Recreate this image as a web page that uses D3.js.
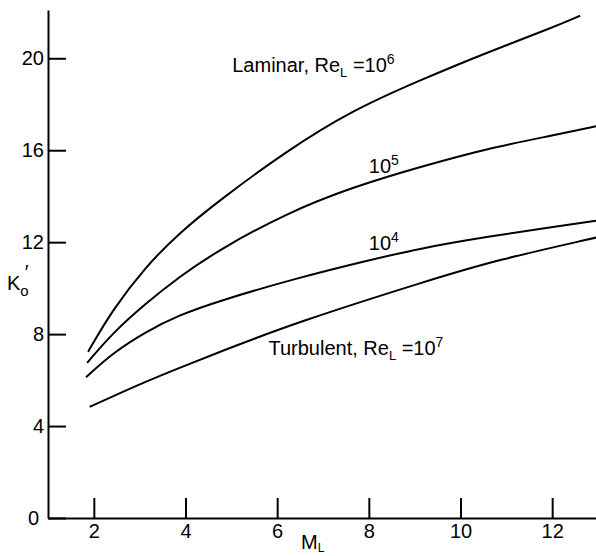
<!DOCTYPE html>
<html>
<head>
<meta charset="utf-8">
<script src="https://cdn.jsdelivr.net/npm/d3@7"></script>
<style>
  body { margin: 0; background: #fff; }
  text { font-family: "Liberation Sans", Arial, sans-serif; fill: #000; }
</style>
</head>
<body>
<div id="chart-area"></div>
<script>
// values: [M_L, K_o']
const laminar1e6 = [[1.875, 7.23], [2.40, 9.04], [3.13, 10.93], [3.86, 12.4], [4.74, 13.82],
  [6.19, 15.95], [7.65, 17.75], [9.11, 19.04], [10.57, 20.25], [12.03, 21.35], [12.61, 21.85]]
const re1e5 = [[1.855, 6.75], [2.40, 8.03], [3.13, 9.33], [3.86, 10.49], [4.74, 11.68],
  [6.19, 13.25], [7.65, 14.4], [9.11, 15.27], [10.57, 16.07], [12.03, 16.65], [12.96, 17.04]]
const re1e4 = [[1.83, 6.12], [2.40, 7.16], [3.13, 8.1], [3.86, 8.83], [4.74, 9.45],
  [6.4, 10.42], [7.87, 11.15], [9.11, 11.73], [10.57, 12.23], [12.03, 12.67], [12.96, 12.93]]
const turbulent1e7 = [[1.91, 4.84], [2.40, 5.28], [3.13, 5.93], [3.86, 6.53], [4.74, 7.22],
  [6.4, 8.5], [9.37, 10.38], [10.79, 11.22], [12.96, 12.2]]

const xTicks = [2, 4, 6, 8, 10, 12]
const yTicks = [0, 4, 8, 12, 16, 20]

const MARGIN = { LEFT: 48, RIGHT: 0, TOP: 10, BOTTOM: 38 }
const WIDTH = 596 - MARGIN.LEFT - MARGIN.RIGHT
const HEIGHT = 556 - MARGIN.TOP - MARGIN.BOTTOM

const svg = d3.select("#chart-area").append("svg")
  .attr("width", 596)
  .attr("height", 556)

const g = svg.append("g")
  .attr("transform", `translate(${MARGIN.LEFT}, ${MARGIN.TOP})`)

// Scales
const x = d3.scaleLinear()
  .domain([1, 13])
  .range([0, 550])
const y = d3.scaleLinear()
  .domain([0, 22.1])
  .range([HEIGHT, 0])

// Axes, ticks point inward
const xAxisCall = d3.axisBottom(x)
  .tickValues(xTicks)
  .tickSizeInner(-20)
  .tickSizeOuter(0)
  .tickPadding(6)
const yAxisCall = d3.axisLeft(y)
  .tickValues(yTicks)
  .tickSizeInner(-18)
  .tickSizeOuter(0)
  .tickPadding(4)

const xAxis = g.append("g")
  .attr("class", "x axis")
  .attr("transform", `translate(0,${HEIGHT})`)
  .call(xAxisCall)
const yAxis = g.append("g")
  .attr("class", "y axis")
  .call(yAxisCall)

g.selectAll(".axis path, .axis line")
  .attr("stroke", "#000")
  .attr("stroke-width", 2)
g.selectAll(".axis text")
  .attr("font-family", "'Liberation Sans', Arial, sans-serif")
  .attr("font-size", "20px")
  .attr("fill", "#000")
yAxis.selectAll(".tick").filter(d => d === 0).select("text").attr("dx", -5)

// Axis labels
g.append("text")
  .attr("x", 253)
  .attr("y", HEIGHT + 31)
  .attr("font-size", "20px")
  .text("M")
  .append("tspan")
    .attr("font-size", "12px")
    .attr("dy", 3)
    .text("L")

const yLabel = svg.append("text")
  .attr("x", 7)
  .attr("y", 290)
  .attr("font-size", "20px")
  .text("K")
yLabel.append("tspan")
  .attr("font-size", "15px")
  .attr("dy", 6)
  .text("o")
yLabel.append("tspan")
  .attr("font-size", "20px")
  .attr("dx", -4)
  .attr("dy", -17)
  .text("′")

// Curves (smoothed through the read points)
const line = d3.line()
  .x(d => x(d[0]))
  .y(d => y(d[1]))
  .curve(d3.curveBasis)

const series = [laminar1e6, re1e5, re1e4, turbulent1e7]
g.selectAll("path.curve")
  .data(series)
  .enter().append("path")
    .attr("class", "curve")
    .attr("fill", "none")
    .attr("stroke", "#000")
    .attr("stroke-width", 2)
    .attr("d", line)

// Curve labels, anchored at (M, K)
function curveLabel(prefix, sub, mid, sup, m, k) {
  const t = g.append("text")
    .attr("x", x(m))
    .attr("y", y(k))
    .attr("font-size", "20px")
    .text(prefix)
  if (sub) {
    t.append("tspan").attr("font-size", "13px").attr("dy", 5).text(sub)
    t.append("tspan").attr("dy", -5).text(mid)
  } else {
    t.append("tspan").text(mid)
  }
  t.append("tspan").attr("font-size", "14px").attr("dy", -8).text(sup)
}

curveLabel("Laminar, Re", "L", " =10", "6", 5.02, 19.4)
curveLabel("", null, "10", "5", 8.0, 15.0)
curveLabel("", null, "10", "4", 8.0, 11.65)
curveLabel("Turbulent, Re", "L", " =10", "7", 5.81, 7.09)
</script>
</body>
</html>
